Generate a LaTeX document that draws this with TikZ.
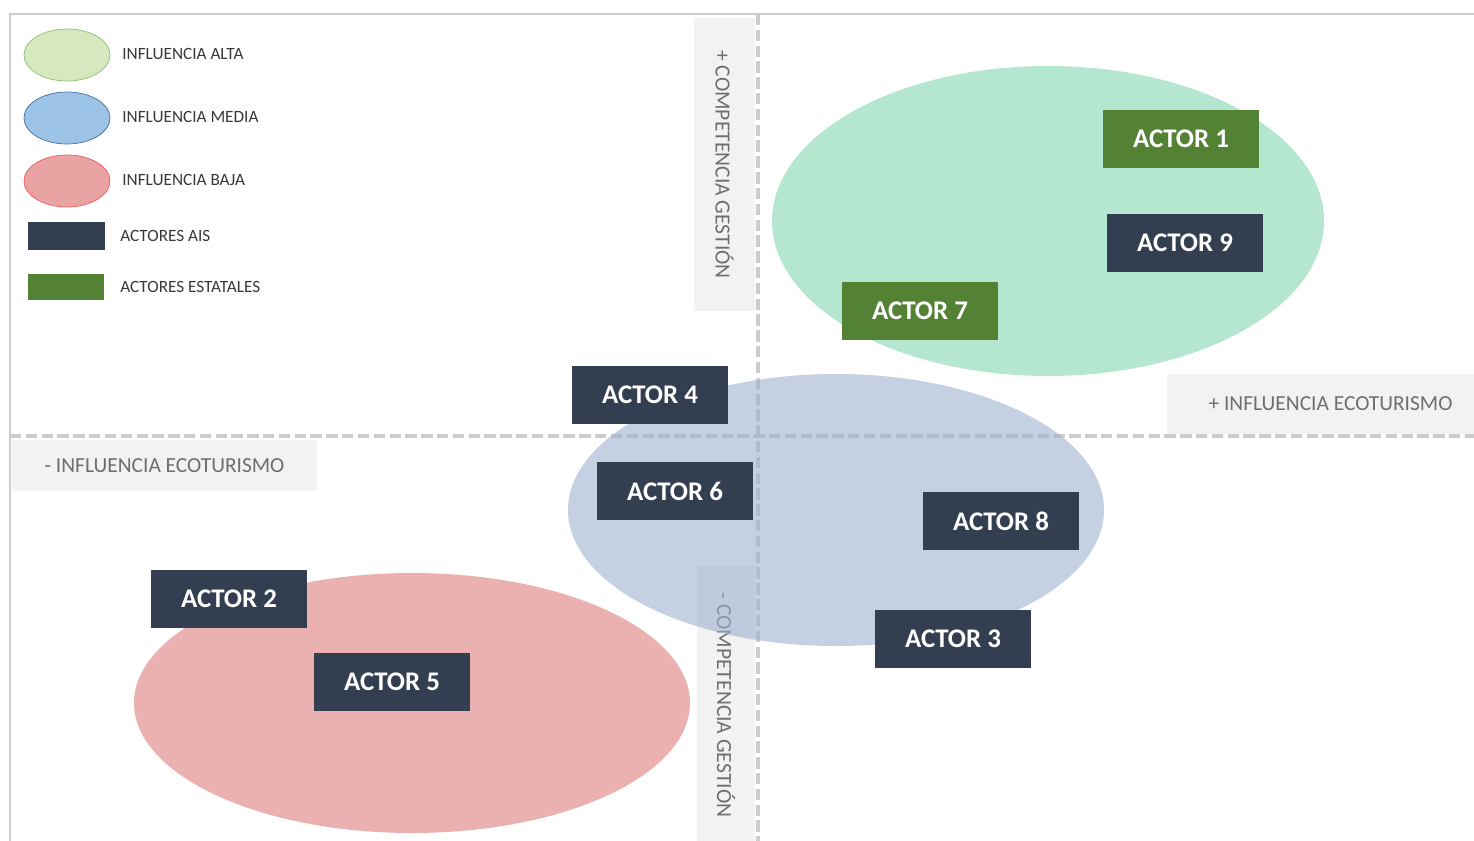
\documentclass[tikz,border=0pt]{standalone}
\usepackage{fontspec}
\setmainfont{Carlito}
\usetikzlibrary{calc}
\definecolor{aisblue}{RGB}{51,63,80}
\definecolor{stategreen}{RGB}{84,130,53}
\definecolor{altafill}{RGB}{150,220,186}
\definecolor{mediafill}{RGB}{158,177,208}
\definecolor{bajafill}{RGB}{220,125,123}
\definecolor{axisgray}{RGB}{204,204,204}
\definecolor{labelbg}{RGB}{242,242,242}
\definecolor{labeltext}{RGB}{110,110,110}
\definecolor{legendtext}{RGB}{56,56,56}
\tikzset{
  actor/.style={fill=#1, text=white, minimum width=3.12cm, minimum height=1.16cm,
    inner sep=0pt, font=\fontsize{15.3}{17}\selectfont\bfseries},
  axislabel/.style={fill=labelbg, text=labeltext, inner sep=0pt, font=\fontsize{12.2}{14}\selectfont},
  legendlabel/.style={anchor=west, text=legendtext, inner sep=0pt, font=\fontsize{9.8}{11}\selectfont},
  axisline/.style={axisgray, line width=2.2pt, dash pattern=on 6.5pt off 2.5pt},
}

\begin{document}
\begin{tikzpicture}[x=0.02cm, y=-0.02cm]
		%%%%% START %%%%%
		\useasboundingbox (0, 0) rectangle (1474, 841);
		
		% frame
		\draw[axisgray, line width=1.2pt] (10, 841) -- (10, 14) -- (1474, 14);
		
		% axis label boxes
		\node[axislabel, minimum width=1.22cm, minimum height=5.86cm] (compplus) at (724.5, 164.5) {};
		\node[rotate=-90, text=labeltext, font=\fontsize{12.3}{14}\selectfont] at (compplus.center) {+ COMPETENCIA GESTIÓN};
		\node[axislabel, minimum width=1.16cm, minimum height=5.5cm] (compminus) at (726, 703.5) {};
		\node[rotate=-90, text=labeltext, font=\fontsize{12.3}{14}\selectfont] at (726, 705) {- COMPETENCIA GESTIÓN};
		\node[axislabel, minimum width=6.14cm, minimum height=1.2cm] (inflplus) at (1320.5, 404) {\hspace{0.4cm}+ INFLUENCIA ECOTURISMO};
		\node[axislabel, minimum width=6.1cm, minimum height=1.02cm] (inflminus) at (164.5, 465.5) {- INFLUENCIA ECOTURISMO};
		
		% axes
		\draw[axisline] (10, 436) -- (1474, 436);
		\draw[axisline] (758, 14) -- (758, 841);
		
		% influence zones
		\fill[altafill, fill opacity=0.7] (1048, 221) ellipse (276 and 155);
		\fill[mediafill, fill opacity=0.6] (836, 510) ellipse (268 and 136);
		\fill[bajafill, fill opacity=0.6] (412, 703) ellipse (278 and 130);
		
		% actors
		\node[actor=stategreen] (actor1) at (1181, 139) {ACTOR 1};
		\node[actor=aisblue] (actor9) at (1185, 243) {ACTOR 9};
		\node[actor=stategreen] (actor7) at (920, 311) {ACTOR 7};
		\node[actor=aisblue] (actor4) at (650, 395) {ACTOR 4};
		\node[actor=aisblue] (actor6) at (675, 491) {ACTOR 6};
		\node[actor=aisblue] (actor8) at (1001, 521) {ACTOR 8};
		\node[actor=aisblue] (actor3) at (953, 639) {ACTOR 3};
		\node[actor=aisblue] (actor2) at (229, 599) {ACTOR 2};
		\node[actor=aisblue] (actor5) at (392, 682) {ACTOR 5};
		
		% legend
		\draw[fill={rgb,255:red,213;green,232;blue,190}, draw={rgb,255:red,140;green,190;blue,110}] (67, 55) ellipse (43 and 26);
		\node[legendlabel] (legalta) at (122, 54) {INFLUENCIA ALTA};
		\draw[fill={rgb,255:red,157;green,195;blue,230}, draw={rgb,255:red,65;green,113;blue,156}] (67, 118) ellipse (43 and 26);
		\node[legendlabel] (legmedia) at (122, 117) {INFLUENCIA MEDIA};
		\draw[fill={rgb,255:red,234;green,163;blue,163}, draw={rgb,255:red,240;green,90;blue,90}] (67, 181) ellipse (43 and 26);
		\node[legendlabel] (legbaja) at (122, 180) {INFLUENCIA BAJA};
		\fill[aisblue] (28, 222) rectangle (105, 250);
		\node[legendlabel] (legais) at (120, 236) {ACTORES AIS};
		\fill[stategreen] (28, 274) rectangle (104, 300);
		\node[legendlabel] (legestatal) at (120, 287) {ACTORES ESTATALES};
		
		%%%%% END %%%%%
\end{tikzpicture}
\end{document}
